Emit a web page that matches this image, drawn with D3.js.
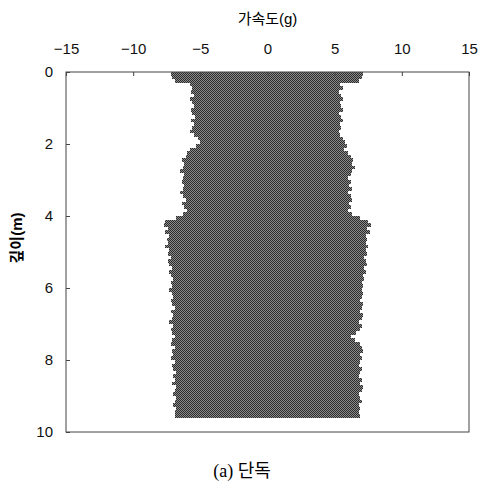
<!DOCTYPE html>
<html lang="ko">
<head>
    <meta charset="UTF-8">
    <title>가속도 - 깊이</title>
    <script src="https://d3js.org/d3.v7.min.js"></script>
    <style>
        body {
            margin: 0;
            background: #fff;
            font-family: "Liberation Sans", Arial, "Noto Sans CJK KR", sans-serif;
        }
        .axis text {
            font-size: 15px;
            fill: #111;
        }
        .axis path, .axis line {
            stroke: #444;
        }
    </style>
</head>
<body>
    <div id="chart"></div>

    <script>
        // depth of each row (m), and acceleration envelope (g)
        const depths = [
            0.0, 0.1, 0.2, 0.3, 0.4, 0.5, 0.6, 0.7, 0.8, 0.9,
            1.0, 1.1, 1.2, 1.3, 1.4, 1.5, 1.6, 1.7, 1.8, 1.9,
            2.0, 2.1, 2.2, 2.3, 2.4, 2.5, 2.6, 2.7, 2.8, 2.9,
            3.0, 3.1, 3.2, 3.3, 3.4, 3.5, 3.6, 3.7, 3.8, 3.9,
            4.0, 4.1, 4.2, 4.3, 4.4, 4.5, 4.6, 4.7, 4.8, 4.9,
            5.0, 5.1, 5.2, 5.3, 5.4, 5.5, 5.6, 5.7, 5.8, 5.9,
            6.0, 6.1, 6.2, 6.3, 6.4, 6.5, 6.6, 6.7, 6.8, 6.9,
            7.0, 7.1, 7.2, 7.3, 7.4, 7.5, 7.6, 7.7, 7.8, 7.9,
            8.0, 8.1, 8.2, 8.3, 8.4, 8.5, 8.6, 8.7, 8.8, 8.9,
            9.0, 9.1, 9.2, 9.3, 9.4, 9.5
        ];
        const accMin = [
            -7.2, -7.1, -6.9, -5.8, -5.6, -5.7, -5.5, -5.8, -5.6, -5.5,
            -5.7, -5.6, -5.4, -5.7, -5.5, -5.6, -5.8, -5.5, -5.2, -5.0,
            -5.3, -5.8, -6.0, -6.1, -6.4, -6.2, -6.3, -6.5, -6.2, -6.3,
            -6.4, -6.2, -6.3, -6.5, -6.3, -6.1, -6.4, -6.2, -6.0, -6.3,
            -6.8, -7.6, -7.7, -7.4, -7.6, -7.3, -7.5, -7.4, -7.6, -7.3,
            -7.4, -7.2, -7.4, -7.3, -7.1, -7.3, -7.2, -7.0, -7.2, -7.1,
            -7.3, -7.1, -7.0, -7.2, -7.1, -6.9, -7.2, -7.0, -7.1, -7.3,
            -7.0, -7.2, -7.1, -6.9, -7.1, -7.2, -6.9, -7.1, -7.0, -7.2,
            -6.9, -7.1, -7.0, -6.8, -7.0, -6.9, -7.1, -6.8, -6.9, -7.0,
            -6.8, -6.9, -7.0, -6.8, -6.9, -6.9
        ];
        const accMax = [
            7.1, 7.0, 6.8, 5.4, 5.6, 5.3, 5.5, 5.6, 5.4, 5.5,
            5.6, 5.3, 5.5, 5.6, 5.4, 5.5, 5.3, 5.4, 5.6, 5.8,
            5.9, 5.7, 6.0, 6.2, 6.4, 6.3, 6.5, 6.3, 6.2, 6.0,
            6.2, 6.1, 6.3, 6.0, 6.2, 6.3, 6.1, 6.2, 6.0, 6.3,
            6.9, 7.5, 7.7, 7.4, 7.6, 7.3, 7.4, 7.3, 7.5, 7.3,
            7.4, 7.2, 7.3, 7.4, 7.2, 7.3, 7.1, 7.2, 7.0, 7.1,
            7.0, 7.1, 7.0, 6.9, 7.1, 7.0, 6.9, 7.1, 7.0, 6.8,
            7.0, 6.9, 6.6, 6.2, 6.5, 6.9, 7.0, 7.1, 6.9, 7.0,
            6.9, 6.8, 7.0, 6.9, 6.8, 7.0, 6.9, 7.1, 7.0, 6.8,
            6.9, 7.0, 6.8, 6.9, 6.8, 6.9
        ];
        const rowStep = 0.1;
        const xTicks = [-15, -10, -5, 0, 5, 10, 15];
        const yTicks = [0, 2, 4, 6, 8, 10];

        const width = 484, height = 497;
        const margin = { top: 72, right: 15, bottom: 65, left: 66 };

        const x = d3.scaleLinear().domain([-15, 15]).range([margin.left, width - margin.right]);
        const y = d3.scaleLinear().domain([0, 10]).range([margin.top, height - margin.bottom]);

        const svg = d3.select("#chart").append("svg")
            .attr("width", width).attr("height", height);

        // halftone look of the printed trace
        const pat = svg.append("defs").append("pattern")
            .attr("id", "halftone")
            .attr("patternUnits", "userSpaceOnUse")
            .attr("width", 2).attr("height", 2);
        pat.append("rect").attr("width", 2).attr("height", 2).attr("fill", "#8c8c8c");
        pat.append("rect").attr("width", 1).attr("height", 1).attr("fill", "#2a2a2a");
        pat.append("rect").attr("x", 1).attr("y", 1).attr("width", 1).attr("height", 1).attr("fill", "#2a2a2a");

        const rows = depths.map((d, i) => ({ depth: d, lo: accMin[i], hi: accMax[i] }));

        svg.append("g")
            .selectAll("rect")
            .data(rows)
            .enter().append("rect")
            .attr("x", d => x(d.lo))
            .attr("y", d => y(d.depth))
            .attr("width", d => x(d.hi) - x(d.lo))
            .attr("height", d => y(d.depth + rowStep) - y(d.depth))
            .attr("fill", "url(#halftone)")
            .attr("shape-rendering", "crispEdges");

        // frame
        svg.append("rect")
            .attr("x", x(-15)).attr("y", y(0))
            .attr("width", x(15) - x(-15)).attr("height", y(10) - y(0))
            .attr("fill", "none").attr("stroke", "#444").attr("stroke-width", 1);

        svg.append("g")
            .attr("class", "axis")
            .attr("transform", `translate(0,${y(0)})`)
            .call(d3.axisTop(x).tickValues(xTicks).tickSizeInner(-4).tickSizeOuter(0).tickPadding(18))
            .call(g => g.select(".domain").remove());

        svg.append("g")
            .attr("class", "axis")
            .attr("transform", `translate(${x(-15)},0)`)
            .call(d3.axisLeft(y).tickValues(yTicks).tickSizeInner(-4).tickSizeOuter(0).tickPadding(13))
            .call(g => g.select(".domain").remove());

        svg.append("text")
            .attr("x", x(0)).attr("y", 24)
            .attr("text-anchor", "middle")
            .style("font-size", "15px")
            .text("가속도(g)");

        svg.append("text")
            .attr("transform", `translate(22,238) rotate(-90)`)
            .attr("text-anchor", "middle")
            .style("font-size", "15px")
            .style("font-weight", "bold")
            .text("깊이(m)");

        svg.append("text")
            .attr("x", 242).attr("y", 477)
            .attr("text-anchor", "middle")
            .style("font-family", "'Liberation Serif', 'Noto Sans CJK KR', serif")
            .style("font-size", "18px")
            .text("(a) 단독");
    </script>
</body>
</html>
